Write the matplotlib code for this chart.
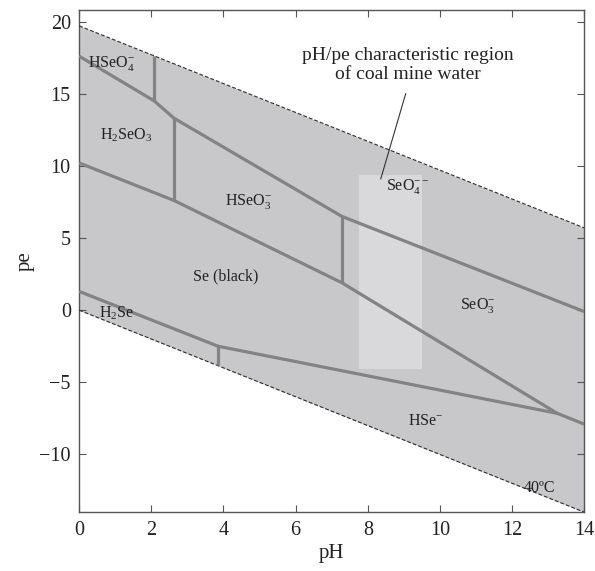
import matplotlib
matplotlib.use("Agg")
import matplotlib.pyplot as plt
from matplotlib.patches import Rectangle

plt.rcParams['font.family'] = ['Liberation Serif', 'DejaVu Serif']
plt.rcParams['mathtext.fontset'] = 'custom'
plt.rcParams['mathtext.rm'] = 'Liberation Serif'
plt.rcParams['mathtext.it'] = 'Liberation Serif:italic'

# water stability limits (dashed)
water_ph = [0, 14]
upper_pe = [19.7, 5.7]
lower_pe = [0.0, -14.0]

# phase boundaries (pH, pe)
b_top_ph = [0, 2.08, 2.63, 7.28, 14]
b_top_pe = [17.6, 14.5, 13.3, 6.5, -0.1]

b_se_ph = [0, 2.63, 7.28, 13.25, 14]
b_se_pe = [10.2, 7.6, 1.9, -7.15, -7.9]

b_low_ph = [0, 3.85, 13.25]
b_low_pe = [1.3, -2.5, -7.15]

# vertical boundaries: pH, pe from, pe to
vert_ph = [2.08, 2.63, 7.28, 3.85]
vert_pe0 = [14.5, 7.6, 1.9, -2.5]
vert_pe1 = [17.6, 13.3, 6.5, -3.8]

# coal mine water region
box_ph = [7.75, 9.5]
box_pe = [-4.05, 9.4]

labels = [r'HSeO$_4^{-}$', r'H$_2$SeO$_3$', r'HSeO$_3^{-}$', r'SeO$_4^{--}$',
          'Se (black)', r'SeO$_3^{-}$', r'H$_2$Se', r'HSe$^{-}$', '40ºC']
label_ph = [0.9, 1.3, 4.7, 9.1, 4.07, 11.05, 1.05, 9.6, 12.75]
label_pe = [17.1, 12.1, 7.5, 8.6, 2.35, 0.3, -0.25, -7.7, -12.35]

fig = plt.figure(figsize=(5.95, 5.71), dpi=100)
ax = fig.add_axes([0.133, 0.103, 0.849, 0.8795])

ax.fill_between(water_ph, lower_pe, upper_pe, color='#c8c8ca', lw=0, zorder=1)
ax.plot(water_ph, upper_pe, color='#2a2a2a', lw=0.8, ls=(0, (3.5, 1.8)), zorder=3)
ax.plot(water_ph, lower_pe, color='#2a2a2a', lw=0.8, ls=(0, (3.5, 1.8)), zorder=3)

ax.add_patch(Rectangle((box_ph[0], box_pe[0]), box_ph[1] - box_ph[0], box_pe[1] - box_pe[0],
                       facecolor='#d9d9db', edgecolor='none', zorder=2))

lc = '#838383'
lw = 2.3
ax.plot(b_top_ph, b_top_pe, color=lc, lw=lw, zorder=4, solid_capstyle='butt')
ax.plot(b_se_ph, b_se_pe, color=lc, lw=lw, zorder=4, solid_capstyle='butt')
ax.plot(b_low_ph, b_low_pe, color=lc, lw=lw, zorder=4, solid_capstyle='butt')
for x, y0, y1 in zip(vert_ph, vert_pe0, vert_pe1):
    ax.plot([x, x], [y0, y1], color=lc, lw=lw, zorder=4, solid_capstyle='butt')

for t, x, y in zip(labels, label_ph, label_pe):
    ax.text(x, y, t, fontsize=11.5, ha='center', va='center', color='#222222', zorder=5)

ax.text(9.1, 17.0, 'pH/pe characteristic region\nof coal mine water', fontsize=14,
        ha='center', va='center', color='#222222', linespacing=1.2)
ax.plot([9.05, 8.36], [15.0, 9.1], color='#333333', lw=0.8, zorder=5)

ax.set_xlim(0, 14)
ax.set_ylim(-14, 20.8)
ax.set_xticks(range(0, 15, 2))
ax.set_yticks([-10, -5, 0, 5, 10, 15, 20])
ax.tick_params(direction='in', top=True, right=True, length=5, color='#555555',
               labelsize=14.5, labelcolor='#222222', pad=6)
for s in ax.spines.values():
    s.set_color('#555555')
    s.set_linewidth(1.0)
ax.set_xlabel('pH', fontsize=15, color='#222222', labelpad=3)
ax.set_ylabel('pe', fontsize=15, color='#222222', labelpad=3)

fig.savefig('out.png', dpi=100)
